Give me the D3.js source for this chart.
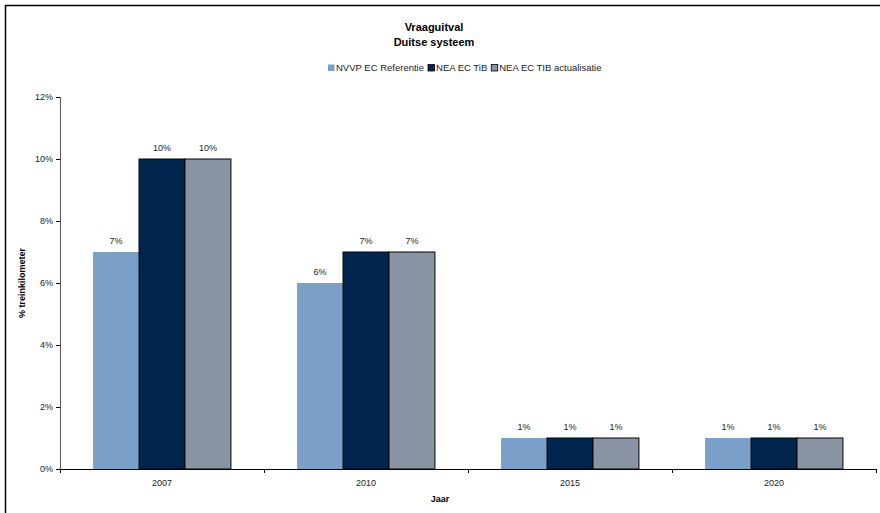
<!DOCTYPE html>
<html>
<head>
<meta charset="utf-8">
<script src="https://cdn.jsdelivr.net/npm/d3@7"></script>
<style>
  html, body { margin: 0; padding: 0; background: #fff; }
  svg { display: block; font-family: Arial, "Liberation Sans", sans-serif; }
</style>
</head>
<body>
<svg id="chart" width="880" height="513"></svg>
<script>
// Vraaguitval per jaar, drie scenario's
const years = ["2007", "2010", "2015", "2020"];
const seriesNames = ["NVVP EC Referentie", "NEA EC TiB", "NEA EC TIB actualisatie"];
const nvvpReferentie = [7, 6, 1, 1];
const neaTiB = [10, 7, 1, 1];
const neaTiBActualisatie = [10, 7, 1, 1];
const yTicks = [0, 2, 4, 6, 8, 10, 12];
const colors = ["#7aa0c9", "#00264f", "#8a95a3"];

const seriesValues = [nvvpReferentie, neaTiB, neaTiBActualisatie];

const svg = d3.select("#chart");
const margin = { left: 60, right: 4, top: 97, bottom: 44 };
const W = 880, H = 513;

// outer frame (left + top edge visible)
svg.append("path")
  .attr("d", `M5.5,513 V5.5 H880`)
  .attr("fill", "none").attr("stroke", "#000").attr("stroke-width", 1.5);

const x0 = d3.scaleBand().domain(years).range([margin.left, W - margin.right]).paddingInner(0).paddingOuter(0);
const x1 = d3.scaleBand().domain(d3.range(seriesNames.length)).range([0, x0.bandwidth()]).paddingInner(0).paddingOuter(0.72);
const y = d3.scaleLinear().domain([0, 12]).range([H - margin.bottom, margin.top]);

// bars
const groups = svg.append("g").selectAll("g").data(years).join("g")
  .attr("transform", d => `translate(${x0(d)},0)`);

groups.selectAll("rect")
  .data((d, i) => seriesValues.map((vals, s) => ({ s, v: vals[i] })))
  .join("rect")
  .attr("x", d => x1(d.s))
  .attr("y", d => y(d.v))
  .attr("width", x1.bandwidth())
  .attr("height", d => y(0) - y(d.v))
  .attr("fill", d => colors[d.s])
  .attr("stroke", d => d.s === 0 ? "none" : "#000")
  .attr("stroke-width", 1);

// value labels
groups.selectAll("text")
  .data((d, i) => seriesValues.map((vals, s) => ({ s, v: vals[i] })))
  .join("text")
  .attr("x", d => x1(d.s) + x1.bandwidth() / 2)
  .attr("y", d => y(d.v) - 8)
  .attr("text-anchor", "middle")
  .attr("font-size", 9)
  .attr("fill", "#222")
  .text(d => d.v + "%");

// y axis
const yAxis = d3.axisLeft(y).tickValues(yTicks).tickFormat(d => d + "%").tickSize(4).tickPadding(3);
const gy = svg.append("g").attr("transform", `translate(${margin.left},0)`).call(yAxis);
gy.select(".domain").attr("stroke", "#555");
gy.selectAll(".tick line").attr("stroke", "#000");
gy.selectAll("text").attr("font-size", 9).attr("fill", "#222").attr("font-family", "Arial, 'Liberation Sans', sans-serif");

// x axis: category labels centred, tick marks at band edges
const gx = svg.append("g").attr("transform", `translate(0,${y(0)})`);
gx.append("line").attr("x1", margin.left).attr("x2", W - margin.right)
  .attr("y1", 0.5).attr("y2", 0.5).attr("stroke", "#000");
const edges = years.map(d => x0(d)).concat([x0(years[years.length - 1]) + x0.bandwidth()]);
gx.selectAll("line.edge").data(edges).join("line").attr("class", "edge")
  .attr("x1", d => d + 0.5).attr("x2", d => d + 0.5).attr("y1", 0).attr("y2", 4).attr("stroke", "#000");
gx.selectAll("text").data(years).join("text")
  .attr("x", d => x0(d) + x0.bandwidth() / 2)
  .attr("y", 17)
  .attr("text-anchor", "middle").attr("font-size", 9).attr("fill", "#222")
  .text(d => d);

// axis titles
svg.append("text").attr("x", 440).attr("y", 502).attr("text-anchor", "middle")
  .attr("font-size", 9).attr("font-weight", "bold").text("Jaar");
svg.append("text").attr("transform", `translate(25,${(y(0) + y(12)) / 2}) rotate(-90)`)
  .attr("text-anchor", "middle").attr("font-size", 9).attr("font-weight", "bold").text("% treinkilometer");

// chart title
const title = svg.append("text").attr("x", 434).attr("text-anchor", "middle")
  .attr("font-size", 11).attr("font-weight", "bold");
title.append("tspan").attr("x", 434).attr("y", 31).text("Vraaguitval");
title.append("tspan").attr("x", 434).attr("y", 46).text("Duitse systeem");

// legend
const legend = svg.append("g").attr("transform", "translate(328,71)");
let lx = 0;
seriesNames.forEach((name, i) => {
  const g = legend.append("g").attr("transform", `translate(${lx},0)`);
  g.append("rect").attr("x", 0).attr("y", -6.5).attr("width", 6.5).attr("height", 6.5)
    .attr("fill", colors[i]).attr("stroke", i === 0 ? "none" : "#000").attr("stroke-width", 0.8);
  const t = g.append("text").attr("x", 8).attr("y", 0).attr("font-size", 9.5).attr("fill", "#222").text(name);
  lx += 8 + t.node().getComputedTextLength() + 4;
});
</script>
</body>
</html>
